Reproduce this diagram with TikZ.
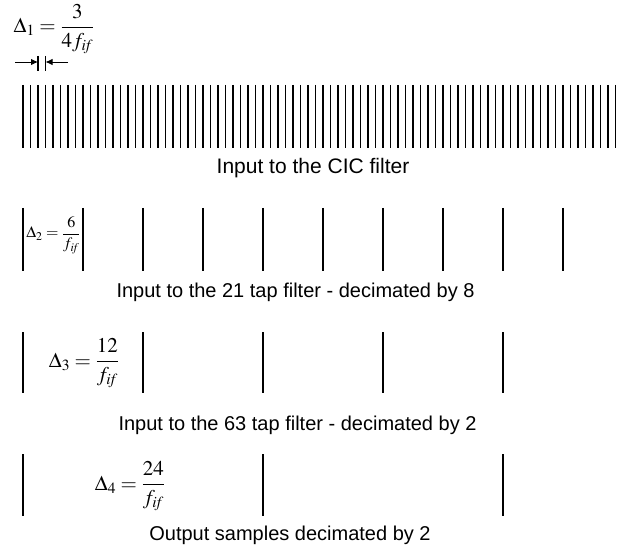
\documentclass[tikz,border=0pt]{standalone}
\usepackage{mathptmx}
\usepackage[no-math]{fontspec}
\setmainfont{Liberation Sans}
\usetikzlibrary{arrows.meta}

\tikzset{
  caption/.style={font=\fontsize{20bp}{24bp}\selectfont, inner sep=0pt, anchor=base},
  formula/.style={font=\fontsize{21bp}{25bp}\selectfont, inner sep=0pt},
  smallformula/.style={font=\fontsize{16bp}{19bp}\selectfont, inner sep=0pt},
  fineline/.style={line width=1.1bp},
  sampleline/.style={line width=1.5bp},
  gaparrow/.style={line width=0.9bp, -{Latex[length=7bp,width=6.5bp]}},
}

\begin{document}
\begin{tikzpicture}[x=1bp, y=-1bp]
  \useasboundingbox (0,0) rectangle (618,548);

  % sampling interval at the input rate
  \node[formula] (d1) at (54,29) {$\Delta_1=\displaystyle\frac{3}{4f_{\mathit{if}}}$};
  \coordinate (t1) at (38,62);
  \coordinate (t2) at (45.5,62);
  \coordinate (a1) at (15,62);
  \coordinate (a2) at (68,62);
  \draw[fineline] (38,56) -- (38,71);
  \draw[fineline] (45.5,56) -- (45.5,71);
  \draw[gaparrow] (a1) -- (t1);
  \draw[gaparrow] (a2) -- (t2);

  % input to the CIC filter
  \foreach \k in {0,...,79} {
    \draw[fineline] (23+7.5*\k,85) -- (23+7.5*\k,148);
  }
  \node[caption, font=\fontsize{21bp}{25bp}\selectfont] (c1) at (313,174) {Input to the CIC filter};

  % after decimation by 8
  \foreach \k in {0,...,9} {
    \draw[sampleline] (23+60*\k,208) -- (23+60*\k,271);
  }
  \node[smallformula] (d2) at (53.5,235) {$\Delta_2=\displaystyle\frac{6}{f_{\mathit{if}}}$};
  \node[caption] (c2) at (295.5,297) {Input to the 21 tap filter - decimated by 8};

  % after decimation by 2
  \foreach \k in {0,...,4} {
    \draw[sampleline] (23+120*\k,332) -- (23+120*\k,393);
  }
  \node[formula] (d3) at (84,363.5) {$\Delta_3=\displaystyle\frac{12}{f_{\mathit{if}}}$};
  \node[caption] (c3) at (297.5,430) {Input to the 63 tap filter - decimated by 2};

  % output samples
  \foreach \k in {0,...,2} {
    \draw[sampleline] (23+240*\k,454) -- (23+240*\k,516);
  }
  \node[formula] (d4) at (130,486.5) {$\Delta_4=\displaystyle\frac{24}{f_{\mathit{if}}}$};
  \node[caption] (c4) at (290,540) {Output samples decimated by 2};
\end{tikzpicture}
\end{document}
